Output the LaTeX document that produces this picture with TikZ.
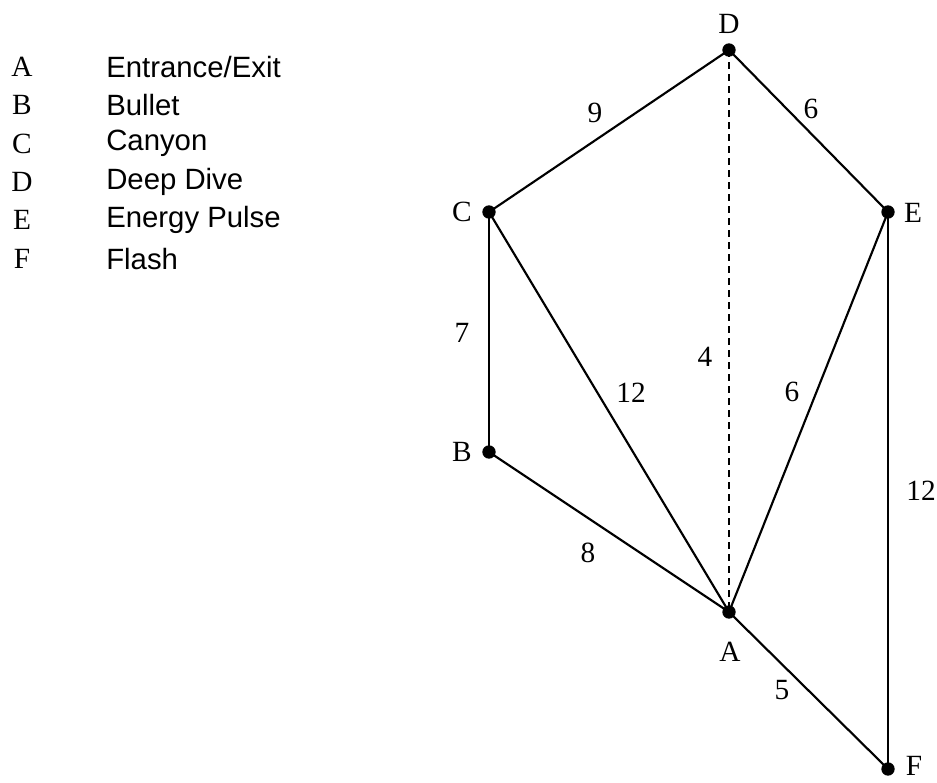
\documentclass[tikz,border=0pt]{standalone}
\usepackage{fontspec}
\setmainfont{Liberation Serif}
\newfontfamily\lsans{Liberation Sans}
\begin{document}
\begin{tikzpicture}[x=0.75pt,y=-0.75pt,
  vtx/.style={circle,fill=black,inner sep=0pt,minimum size=10pt},
  edge/.style={line width=1.6pt},
  lbl/.style={font=\fontsize{22}{26}\selectfont,inner sep=0pt},
  nm/.style={font=\lsans\fontsize{22}{26}\selectfont,inner sep=0pt,anchor=west}]
\useasboundingbox (0,0) rectangle (937,782);
% legend
\foreach \l/\n/\y in {A/Entrance\slash Exit/67,B/Bullet/105.3,C/Canyon/143.6,D/Deep Dive/182,E/Energy Pulse/220.3,F/Flash/258.6}{
  \node[lbl] (leg\l) at (22,\y) {\l};
  \node[nm] (legn\l) at (106,\y) {\n};
}
% vertices
\node[vtx] (A) at (729,612) {};
\node[vtx] (B) at (489,452) {};
\node[vtx] (C) at (489,212) {};
\node[vtx] (D) at (729,50) {};
\node[vtx] (E) at (888,212) {};
\node[vtx] (F) at (888,769) {};
\node[lbl] (lA) at (730,652) {A};
\node[lbl] (lB) at (462,452) {B};
\node[lbl] (lC) at (462,212) {C};
\node[lbl] (lD) at (729,24) {D};
\node[lbl] (lE) at (913,213) {E};
\node[lbl] (lF) at (914,766) {F};
% edges
\draw[edge] (C.center) -- (D.center);
\draw[edge] (D.center) -- (E.center);
\draw[edge] (C.center) -- (B.center);
\draw[edge] (B.center) -- (A.center);
\draw[edge] (C.center) -- (A.center);
\draw[edge] (E.center) -- (A.center);
\draw[edge] (E.center) -- (F.center);
\draw[edge] (A.center) -- (F.center);
\draw[line width=0.8pt,dash pattern=on 5.5pt off 3.5pt] (D.center) -- (A.center);
% edge labels
\node[lbl] (w1) at (595,113) {9};
\node[lbl] (w2) at (811,109) {6};
\node[lbl] (w3) at (462,333) {7};
\node[lbl] (w4) at (631,393) {12};
\node[lbl] (w5) at (705,357) {4};
\node[lbl] (w6) at (792,392) {6};
\node[lbl] (w7) at (921,491) {12};
\node[lbl] (w8) at (588,553) {8};
\node[lbl] (w9) at (782,690) {5};
\end{tikzpicture}
\end{document}
